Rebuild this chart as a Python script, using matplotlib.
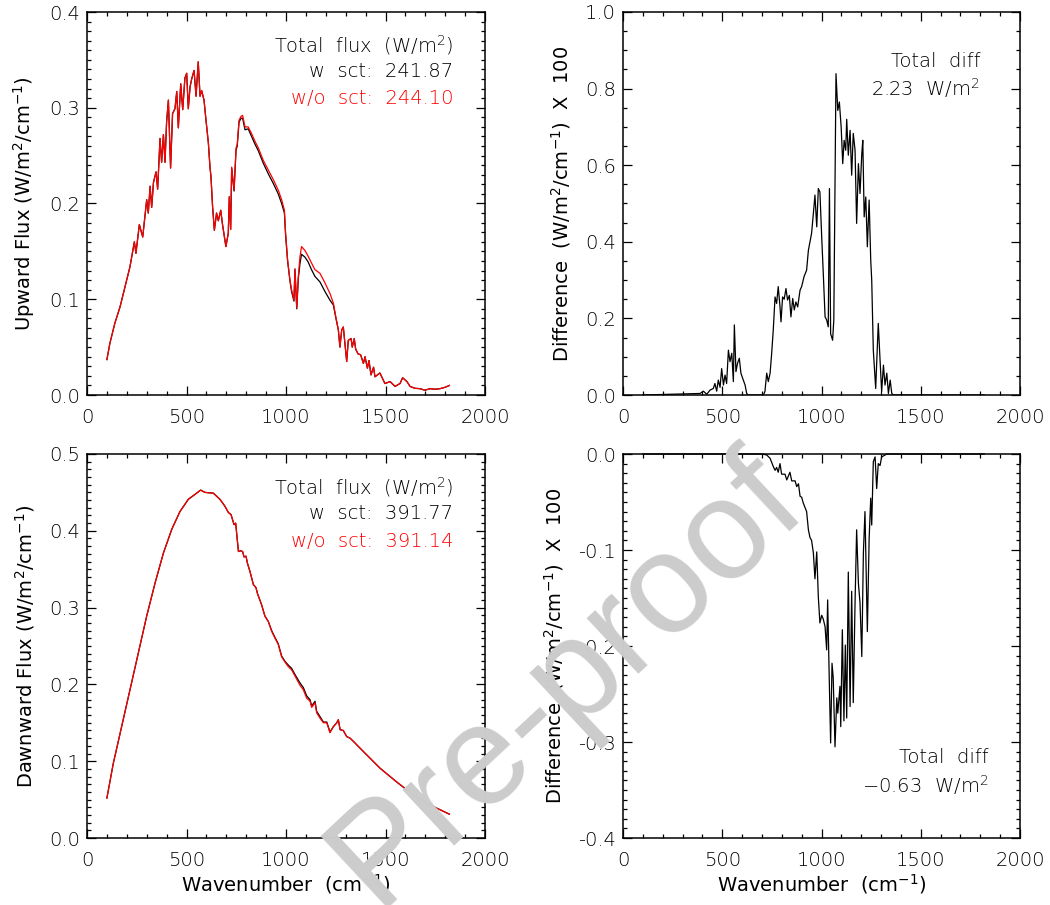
import matplotlib
matplotlib.use("Agg")
import matplotlib.pyplot as plt
from matplotlib.ticker import MultipleLocator, FormatStrFormatter

# ---------------- data ----------------
wn_up = [100, 115, 140, 166, 191, 216, 238, 246, 263, 280, 291, 300, 308, 317, 325, 334, 347, 355,
         367, 375, 384, 392, 400, 409, 420, 430, 442, 451, 459, 471, 481, 492, 501, 509, 518, 526,
         538, 548, 559, 568, 576, 588, 598, 610, 618, 623, 631, 640, 651, 660, 672, 681, 693, 698,
         710, 715, 722, 727, 739, 749, 755, 764, 774, 782, 794, 810, 827, 844, 861, 886, 911, 936,
         961, 978, 992, 998, 1008, 1020, 1028, 1040, 1045, 1054, 1062, 1070, 1078, 1095, 1111, 1128,
         1145, 1171, 1196, 1221, 1238, 1250, 1263, 1271, 1280, 1288, 1296, 1305, 1313, 1327, 1333,
         1343, 1350, 1362, 1375, 1389, 1397, 1409, 1417, 1427, 1440, 1447, 1472, 1497, 1523, 1548,
         1573, 1586, 1608, 1623, 1648, 1673, 1698, 1724, 1749, 1774, 1799, 1821]
up_nosct = [0.037, 0.054, 0.075, 0.092, 0.113, 0.134, 0.160, 0.148, 0.178, 0.165, 0.186, 0.204, 0.190,
            0.218, 0.196, 0.222, 0.233, 0.215, 0.268, 0.243, 0.272, 0.243, 0.285, 0.308, 0.237, 0.294,
            0.299, 0.317, 0.279, 0.325, 0.298, 0.331, 0.336, 0.299, 0.322, 0.330, 0.339, 0.312, 0.348,
            0.312, 0.318, 0.308, 0.287, 0.263, 0.238, 0.228, 0.197, 0.172, 0.190, 0.182, 0.193, 0.178,
            0.162, 0.155, 0.169, 0.207, 0.173, 0.238, 0.214, 0.258, 0.262, 0.287, 0.291, 0.292, 0.280,
            0.280, 0.273, 0.265, 0.258, 0.245, 0.235, 0.225, 0.214, 0.204, 0.193, 0.169, 0.141, 0.120,
            0.110, 0.099, 0.132, 0.091, 0.124, 0.144, 0.155, 0.151, 0.145, 0.138, 0.131, 0.127, 0.117,
            0.106, 0.096, 0.082, 0.068, 0.050, 0.068, 0.071, 0.054, 0.035, 0.057, 0.059, 0.050, 0.059,
            0.048, 0.043, 0.042, 0.033, 0.040, 0.028, 0.036, 0.021, 0.029, 0.019, 0.023, 0.012, 0.014,
            0.009, 0.012, 0.018, 0.014, 0.009, 0.007, 0.0066, 0.005, 0.0066, 0.006, 0.0066, 0.008, 0.010]
up_sct = [0.037, 0.054, 0.075, 0.092, 0.113, 0.134, 0.160, 0.148, 0.178, 0.165, 0.186, 0.204, 0.190,
          0.218, 0.196, 0.222, 0.233, 0.215, 0.268, 0.243, 0.272, 0.243, 0.285, 0.308, 0.237, 0.294,
          0.299, 0.317, 0.279, 0.325, 0.298, 0.331, 0.336, 0.299, 0.322, 0.330, 0.339, 0.312, 0.348,
          0.312, 0.318, 0.308, 0.287, 0.263, 0.238, 0.228, 0.197, 0.172, 0.190, 0.182, 0.193, 0.178,
          0.162, 0.155, 0.169, 0.207, 0.173, 0.237, 0.213, 0.256, 0.260, 0.285, 0.289, 0.289, 0.277,
          0.278, 0.270, 0.262, 0.255, 0.242, 0.231, 0.221, 0.210, 0.200, 0.190, 0.167, 0.140, 0.119,
          0.108, 0.098, 0.131, 0.090, 0.122, 0.137, 0.147, 0.144, 0.139, 0.131, 0.124, 0.118, 0.108,
          0.099, 0.094, 0.081, 0.068, 0.050, 0.068, 0.071, 0.054, 0.035, 0.057, 0.059, 0.050, 0.059,
          0.048, 0.043, 0.042, 0.033, 0.040, 0.028, 0.036, 0.021, 0.029, 0.019, 0.023, 0.012, 0.014,
          0.009, 0.012, 0.018, 0.014, 0.009, 0.007, 0.0066, 0.005, 0.0066, 0.006, 0.0066, 0.008, 0.010]

wn_dup = [100, 388, 405, 422, 439, 455, 463, 472, 480, 489, 497, 506, 514, 522, 531, 539, 548, 556,
          561, 569, 577, 586, 594, 606, 615, 623, 631, 707, 715, 724, 732, 741, 749, 757, 766, 774,
          782, 791, 796, 804, 812, 821, 829, 838, 846, 855, 863, 871, 880, 892, 900, 912, 925, 934,
          942, 950, 959, 967, 976, 984, 992, 1001, 1009, 1018, 1026, 1034, 1040, 1046, 1056, 1062,
          1073, 1082, 1090, 1099, 1107, 1114, 1122, 1127, 1135, 1144, 1152, 1160, 1169, 1177, 1186,
          1194, 1203, 1208, 1215, 1223, 1231, 1240, 1248, 1253, 1261, 1273, 1286, 1295, 1303, 1312,
          1320, 1329, 1337, 1346, 1354, 1362, 1400, 1820]
diff_up = [0.0, 0.004, 0.010, 0.002, 0.013, 0.017, 0.030, 0.010, 0.039, 0.020, 0.069, 0.026, 0.052,
           0.030, 0.117, 0.087, 0.109, 0.035, 0.183, 0.061, 0.083, 0.096, 0.057, 0.039, 0.026, 0.004,
           0.0, 0.0, 0.009, 0.057, 0.035, 0.057, 0.109, 0.170, 0.256, 0.239, 0.283, 0.230, 0.191,
           0.256, 0.250, 0.278, 0.248, 0.260, 0.204, 0.252, 0.222, 0.243, 0.230, 0.274, 0.283, 0.309,
           0.326, 0.378, 0.400, 0.422, 0.474, 0.522, 0.439, 0.539, 0.530, 0.413, 0.317, 0.204, 0.196,
           0.178, 0.539, 0.160, 0.143, 0.196, 0.839, 0.743, 0.765, 0.700, 0.604, 0.665, 0.639, 0.720,
           0.626, 0.691, 0.574, 0.683, 0.639, 0.448, 0.604, 0.526, 0.630, 0.665, 0.465, 0.517, 0.387,
           0.509, 0.352, 0.300, 0.117, 0.017, 0.187, 0.091, 0.009, 0.078, 0.026, 0.057, 0.004, 0.039,
           0.004, 0.0, 0.0, 0.0]

wn_dn = [100, 132, 174, 216, 258, 300, 342, 384, 426, 467, 509, 551, 571, 593, 635, 668, 693, 710,
         724, 739, 747, 752, 761, 772, 782, 789, 799, 806, 819, 836, 849, 857, 877, 894, 911, 928,
         945, 961, 978, 995, 1012, 1028, 1045, 1070, 1087, 1104, 1121, 1129, 1146, 1154, 1171, 1188,
         1205, 1221, 1238, 1255, 1263, 1272, 1288, 1305, 1322, 1338, 1372, 1422, 1472, 1556, 1640,
         1724, 1821]
dn_nosct = [0.052, 0.097, 0.145, 0.193, 0.241, 0.289, 0.332, 0.371, 0.402, 0.425, 0.441, 0.449, 0.453,
            0.450, 0.449, 0.441, 0.432, 0.424, 0.421, 0.408, 0.410, 0.397, 0.373, 0.374, 0.373, 0.366,
            0.367, 0.358, 0.347, 0.330, 0.326, 0.318, 0.304, 0.289, 0.282, 0.269, 0.260, 0.252, 0.236,
            0.229, 0.223, 0.219, 0.211, 0.199, 0.193, 0.182, 0.178, 0.170, 0.176, 0.163, 0.156, 0.150,
            0.150, 0.137, 0.145, 0.150, 0.154, 0.141, 0.140, 0.132, 0.130, 0.126, 0.117, 0.104, 0.091,
            0.073, 0.056, 0.043, 0.031]
dn_sct = [0.052, 0.097, 0.145, 0.193, 0.241, 0.289, 0.332, 0.371, 0.402, 0.425, 0.441, 0.449, 0.453,
          0.450, 0.449, 0.441, 0.432, 0.424, 0.421, 0.408, 0.410, 0.397, 0.373, 0.374, 0.373, 0.366,
          0.367, 0.358, 0.347, 0.330, 0.326, 0.318, 0.304, 0.289, 0.282, 0.270, 0.261, 0.253, 0.237,
          0.230, 0.225, 0.221, 0.213, 0.202, 0.196, 0.185, 0.180, 0.172, 0.178, 0.165, 0.158, 0.151,
          0.151, 0.138, 0.145, 0.150, 0.154, 0.141, 0.140, 0.132, 0.130, 0.126, 0.117, 0.104, 0.091,
          0.073, 0.056, 0.043, 0.031]

wn_ddn = [100, 699, 724, 741, 757, 766, 774, 782, 791, 799, 816, 825, 833, 841, 850, 867, 875, 884,
          892, 900, 908, 925, 934, 942, 950, 959, 967, 976, 984, 992, 1001, 1009, 1018, 1026, 1031,
          1040, 1046, 1053, 1059, 1068, 1077, 1082, 1093, 1097, 1105, 1113, 1120, 1127, 1135, 1144,
          1152, 1160, 1169, 1177, 1186, 1194, 1203, 1211, 1219, 1231, 1240, 1248, 1253, 1261, 1270,
          1278, 1286, 1295, 1303, 1312, 1329, 1820]
diff_dn = [0.0, 0.0, -0.001, -0.0045, -0.013, -0.017, -0.014, -0.019, -0.010, -0.021, -0.021, -0.027,
           -0.023, -0.019, -0.028, -0.028, -0.034, -0.031, -0.044, -0.045, -0.051, -0.060, -0.079,
           -0.087, -0.090, -0.103, -0.130, -0.102, -0.149, -0.176, -0.168, -0.172, -0.180, -0.204,
           -0.152, -0.244, -0.301, -0.218, -0.233, -0.305, -0.254, -0.270, -0.242, -0.284, -0.183,
           -0.278, -0.199, -0.275, -0.123, -0.263, -0.143, -0.259, -0.155, -0.079, -0.135, -0.155,
           -0.211, -0.103, -0.060, -0.185, -0.088, -0.046, -0.074, -0.008, -0.003, -0.036, -0.010,
           -0.012, -0.003, -0.002, 0.0, 0.0]

up_labels = ["Total  flux  (W/m$^{2}$)", "w  sct:  241.87", "w/o  sct:  244.10"]
dn_labels = ["Total  flux  (W/m$^{2}$)", "w  sct:  391.77", "w/o  sct:  391.14"]
up_diff_labels = ["Total  diff", "2.23  W/m$^{2}$"]
dn_diff_labels = ["Total  diff", "−0.63  W/m$^{2}$"]
ylab_up = "Upward Flux (W/m$^{2}$/cm$^{-1}$)"
ylab_dn = "Dawnward Flux (W/m$^{2}$/cm$^{-1}$)"
ylab_diff = "Difference  (W/m$^{2}$/cm$^{-1}$)  X  100"
xlab = "Wavenumber  (cm$^{-1}$)"

# ---------------- figure ----------------
W, H = 1050, 905
plt.rcParams['font.family'] = ['DejaVu Sans']
plt.rcParams['font.weight'] = 'light'
plt.rcParams['mathtext.default'] = 'regular'
fig = plt.figure(figsize=(W / 100, H / 100), dpi=100)

FS = 14
TXT = 'black'


def rect(x0, y0, x1, y1):
    return [x0 / W, 1 - y1 / H, (x1 - x0) / W, (y1 - y0) / H]


def style(ax, ymaj, ymin, ylo, yhi, fmt):
    ax.set_xlim(0, 2000)
    ax.set_ylim(ylo, yhi)
    ax.xaxis.set_major_locator(MultipleLocator(500))
    ax.xaxis.set_minor_locator(MultipleLocator(100))
    ax.yaxis.set_major_locator(MultipleLocator(ymaj))
    ax.yaxis.set_minor_locator(MultipleLocator(ymin))
    ax.yaxis.set_major_formatter(FormatStrFormatter(fmt))
    ax.tick_params(which='both', direction='in', top=True, right=True, width=0.9,
                   labelsize=FS, colors='black', labelcolor=TXT)
    ax.tick_params(which='major', length=6.5)
    ax.tick_params(which='minor', length=3)
    ax.tick_params(axis='x', pad=9)
    ax.tick_params(axis='y', pad=5)
    for s in ax.spines.values():
        s.set_linewidth(1.1)


ax1 = fig.add_axes(rect(87, 12, 485, 395))
ax2 = fig.add_axes(rect(623, 12, 1020, 395))
ax3 = fig.add_axes(rect(87, 454, 485, 838))
ax4 = fig.add_axes(rect(623, 454, 1020, 838))

# top-left
ax1.plot(wn_up, up_sct, color='black', lw=0.9)
ax1.plot(wn_up, up_nosct, color='red', lw=0.9)
style(ax1, 0.1, 0.01, 0, 0.4, '%.1f')
ax1.set_ylabel(ylab_up, fontsize=FS, labelpad=9, color=TXT)
for i, (t, c) in enumerate(zip(up_labels, [TXT, TXT, 'red'])):
    ax1.text(0.92, 0.915 - i * 0.071, t, color=c, fontsize=FS, ha='right', va='center',
             transform=ax1.transAxes)

# top-right
ax2.plot(wn_dup, diff_up, color='black', lw=0.9)
style(ax2, 0.2, 0.05, 0, 1.0, '%.1f')
ax2.set_ylabel(ylab_diff, fontsize=FS, labelpad=9, color=TXT)
for i, t in enumerate(up_diff_labels):
    ax2.text(0.9, 0.87 - i * 0.069, t, color=TXT, fontsize=FS, ha='right', va='center',
             transform=ax2.transAxes)

# bottom-left
ax3.plot(wn_dn, dn_sct, color='black', lw=0.9)
ax3.plot(wn_dn, dn_nosct, color='red', lw=0.9)
style(ax3, 0.1, 0.01, 0, 0.5, '%.1f')
ax3.set_ylabel(ylab_dn, fontsize=FS, labelpad=9, color=TXT)
ax3.set_xlabel(xlab, fontsize=FS, labelpad=2, color=TXT)
for i, (t, c) in enumerate(zip(dn_labels, [TXT, TXT, 'red'])):
    ax3.text(0.92, 0.915 - i * 0.071, t, color=c, fontsize=FS, ha='right', va='center',
             transform=ax3.transAxes)

# bottom-right
ax4.plot(wn_ddn, diff_dn, color='black', lw=0.9, clip_on=False)
style(ax4, 0.1, 0.01, -0.4, 0.0, '%.1f')
ax4.set_ylabel(ylab_diff, fontsize=FS, labelpad=9, color=TXT)
ax4.set_xlabel(xlab, fontsize=FS, labelpad=2, color=TXT)
for i, t in enumerate(dn_diff_labels):
    ax4.text(0.92, 0.21 - i * 0.072, t, color=TXT, fontsize=FS, ha='right', va='center',
             transform=ax4.transAxes)

# watermark
fig.text(567 / W, 1 - 680 / H, "Pre-proof", fontsize=102, color='#cccccc',
         family=['Liberation Sans', 'DejaVu Sans'], weight='normal', rotation=43,
         ha='center', va='center', rotation_mode='anchor', zorder=100)

fig.savefig("out.png", dpi=100)
